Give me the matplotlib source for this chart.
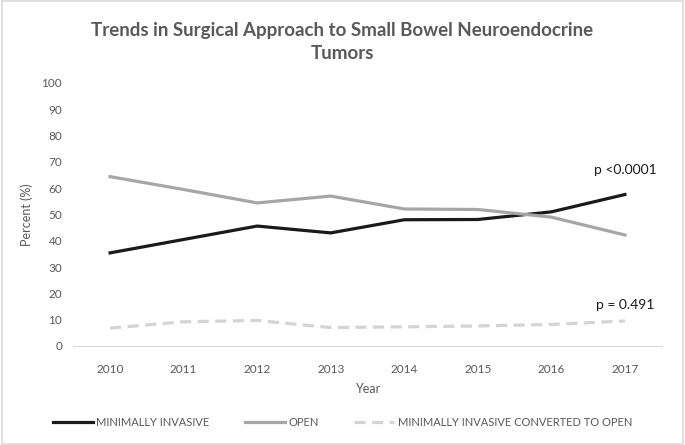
import matplotlib.pyplot as plt
from matplotlib.patches import Rectangle

years = ["2010", "2011", "2012", "2013", "2014", "2015", "2016", "2017"]
minimally_invasive = [35.4, 40.5, 45.6, 43.0, 48.0, 48.1, 51.0, 57.6]
open_surgery = [64.4, 59.5, 54.4, 57.0, 52.1, 51.9, 49.0, 42.2]
converted = [6.8, 9.2, 9.7, 7.0, 7.3, 7.6, 8.2, 9.5]

plt.rcParams['font.family'] = ['Lato', 'DejaVu Sans']
grey_text = '#595959'

fig = plt.figure(figsize=(6.85, 4.45), dpi=100)
ax = fig.add_axes([0.107, 0.2225, 0.859, 0.591])

x = range(len(years))
ax.plot(x, minimally_invasive, color='#1a1a1a', lw=2.3, label='MINIMALLY INVASIVE')
ax.plot(x, open_surgery, color='#a6a6a6', lw=2.3, label='OPEN')
ax.plot(x, converted, color='#d4d4d4', lw=2.3, dashes=(3.5, 2.0),
        label='MINIMALLY INVASIVE CONVERTED TO OPEN')

ax.set_xlim(-0.5, 7.5)
ax.set_ylim(0, 100)
ax.set_xticks(list(x))
ax.set_xticklabels(years)
ax.set_yticks(range(0, 101, 10))
ax.tick_params(axis='y', length=0, labelsize=8.5, colors=grey_text, pad=8)
ax.tick_params(axis='x', length=0, labelsize=8.5, colors=grey_text, pad=13)
for s in ['top', 'right', 'left']:
    ax.spines[s].set_visible(False)
ax.spines['bottom'].set_color('#d9d9d9')
ax.set_xlabel('Year', fontsize=9, color=grey_text, labelpad=6)
ax.set_ylabel('Percent (%)', fontsize=9, color=grey_text, labelpad=6)

ax.text(7.0, 65.5, 'p <0.0001', fontsize=10, color='#1a1a1a', ha='center')
ax.text(7.0, 14.2, 'p = 0.491', fontsize=10, color='#1a1a1a', ha='center')

fig.text(0.5, 0.905, 'Trends in Surgical Approach to Small Bowel Neuroendocrine\nTumors',
         ha='center', va='center', fontsize=13.5, fontweight='bold', color=grey_text,
         linespacing=1.4)

fig.legend(loc='center', bbox_to_anchor=(0.5, 0.05), ncol=3, frameon=False,
           fontsize=8, labelcolor=grey_text, handlelength=3.6, columnspacing=3.2,
           handletextpad=0.3)

fig.patches.append(Rectangle((0.003, 0.003), 0.994, 0.994, transform=fig.transFigure,
                             fill=False, edgecolor='#d9d9d9', lw=1.2))

fig.savefig('out.png', dpi=100)
